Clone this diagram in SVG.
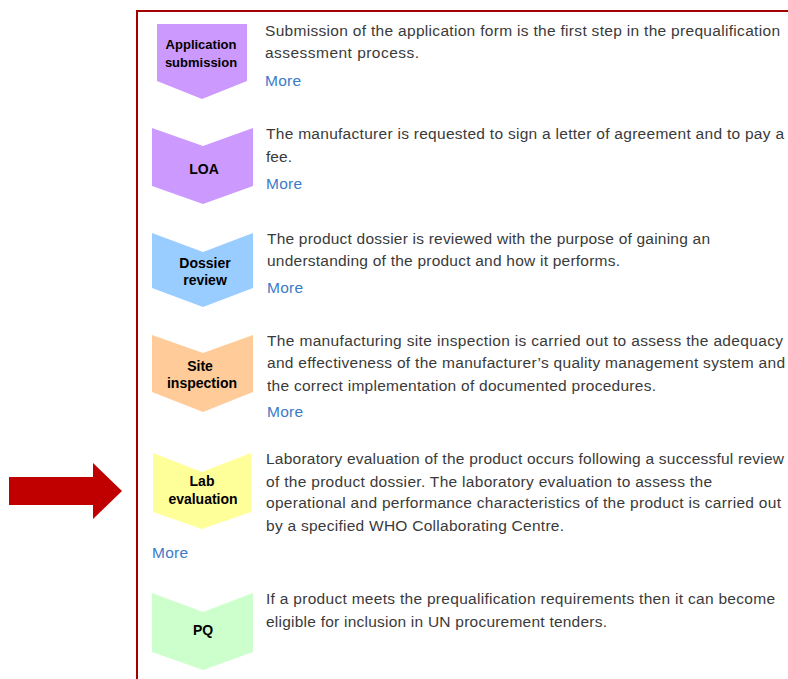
<svg xmlns="http://www.w3.org/2000/svg" width="788" height="679" viewBox="0 0 788 679">
  <style>
    .frame { stroke: #a30000; stroke-width: 2; fill: none; }
    .chev { stroke: none; }
    .lbl { font-family: "Liberation Sans", Arial, sans-serif; font-weight: bold; font-size: 14px; fill: #000; text-anchor: middle; }
    .lbl13 { font-size: 13px; }
    .body { font-family: "Liberation Sans", Arial, sans-serif; font-size: 15.5px; fill: #3a3a3a; }
    .more { font-family: "Liberation Sans", Arial, sans-serif; font-size: 15.5px; fill: #3b7bc8; }
    .pointer { fill: #c00000; }
  </style>
  <rect width="788" height="679" fill="#ffffff"/>
  <g id="frame">
    <line class="frame" x1="136" y1="11" x2="788" y2="11"/>
    <line class="frame" x1="137" y1="10" x2="137" y2="679"/>
  </g>

  <g id="connectors">
    <polygon class="pointer" points="9,477 93,477 93,463 122,491 93,519 93,505 9,505"/>
  </g>

  <g id="step-application">
    <polygon class="chev" fill="#cc99ff" points="157,24 247,24 247,81 202,99 157,81"/>
    <text class="lbl lbl13" x="201" y="49">Application</text>
    <text class="lbl lbl13" x="201" y="67">submission</text>
    <text class="body" x="265" y="36" textLength="515" lengthAdjust="spacing">Submission of the application form is the first step in the prequalification</text>
    <text class="body" x="265" y="58" textLength="154" lengthAdjust="spacing">assessment process.</text>
    <text class="more" x="265" y="86" textLength="36" lengthAdjust="spacing">More</text>
  </g>

  <g id="step-loa">
    <polygon class="chev" fill="#cc99ff" points="152,128 203,146 253,128 253,186 203,204 152,186"/>
    <text class="lbl" x="204" y="174">LOA</text>
    <text class="body" x="266" y="139" textLength="518" lengthAdjust="spacing">The manufacturer is requested to sign a letter of agreement and to pay a</text>
    <text class="body" x="266" y="162" textLength="26" lengthAdjust="spacing">fee.</text>
    <text class="more" x="266" y="189" textLength="36" lengthAdjust="spacing">More</text>
  </g>

  <g id="step-dossier">
    <polygon class="chev" fill="#99ccff" points="152,233 203,252 253,233 253,288 203,307 152,288"/>
    <text class="lbl" x="205" y="268">Dossier</text>
    <text class="lbl" x="205" y="285">review</text>
    <text class="body" x="267" y="244" textLength="443" lengthAdjust="spacing">The product dossier is reviewed with the purpose of gaining an</text>
    <text class="body" x="267" y="266" textLength="353" lengthAdjust="spacing">understanding of the product and how it performs.</text>
    <text class="more" x="267" y="293" textLength="36" lengthAdjust="spacing">More</text>
  </g>

  <g id="step-site">
    <polygon class="chev" fill="#ffcc99" points="152,335 203,353 253,335 253,392 203,412 152,392"/>
    <text class="lbl" x="200" y="371">Site</text>
    <text class="lbl" x="202" y="388">inspection</text>
    <text class="body" x="267" y="346" textLength="516" lengthAdjust="spacing">The manufacturing site inspection is carried out to assess the adequacy</text>
    <text class="body" x="267" y="368" textLength="518" lengthAdjust="spacing">and effectiveness of the manufacturer’s quality management system and</text>
    <text class="body" x="267" y="391" textLength="389" lengthAdjust="spacing">the correct implementation of documented procedures.</text>
    <text class="more" x="267" y="417" textLength="36" lengthAdjust="spacing">More</text>
  </g>

  <g id="step-lab">
    <polygon class="chev" fill="#ffff99" points="153,453 202,472 251,453 251,512 202,529 153,512"/>
    <text class="lbl" x="202" y="486">Lab</text>
    <text class="lbl" x="203" y="504">evaluation</text>
    <text class="body" x="266" y="464" textLength="518" lengthAdjust="spacing">Laboratory evaluation of the product occurs following a successful review</text>
    <text class="body" x="266" y="487" textLength="446" lengthAdjust="spacing">of the product dossier. The laboratory evaluation to assess the</text>
    <text class="body" x="266" y="508" textLength="515" lengthAdjust="spacing">operational and performance characteristics of the product is carried out</text>
    <text class="body" x="266" y="531" textLength="298" lengthAdjust="spacing">by a specified WHO Collaborating Centre.</text>
    <text class="more" x="152" y="558" textLength="36" lengthAdjust="spacing">More</text>
  </g>

  <g id="step-pq">
    <polygon class="chev" fill="#ccffcc" points="152,593 203,612 253,593 253,652 203,670 152,652"/>
    <text class="lbl" x="203" y="635">PQ</text>
    <text class="body" x="266" y="604" textLength="509" lengthAdjust="spacing">If a product meets the prequalification requirements then it can become</text>
    <text class="body" x="266" y="627" textLength="341" lengthAdjust="spacing">eligible for inclusion in UN procurement tenders.</text>
  </g>
</svg>
